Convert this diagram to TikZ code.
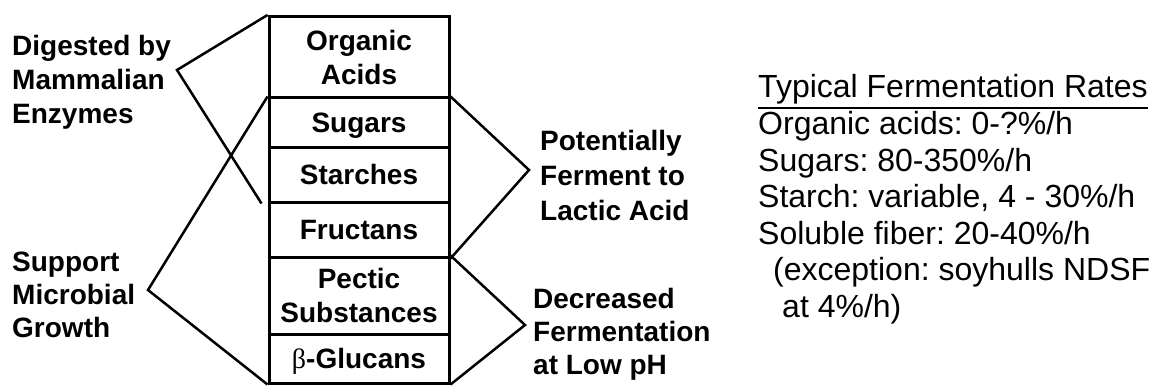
\documentclass[tikz,border=0pt]{standalone}
\usepackage{fontspec}
\setmainfont{Liberation Sans}
\newfontfamily\betafont{Liberation Serif}
\frenchspacing
\begin{document}
\begin{tikzpicture}[x=1pt,y=-1pt,
  boldtxt/.style={font=\fontsize{28}{34}\selectfont\bfseries, inner sep=0pt},
  cell/.style={draw, line width=3pt, minimum width=180pt, inner sep=0pt, align=center,
    font=\fontsize{28}{34}\selectfont\bfseries},
  cellone/.style={cell, text height=20pt, text depth=0pt},
  bracket/.style={line width=2.5pt},
  rate/.style={font=\fontsize{32}{36.5}\selectfont\frenchspacing, inner sep=0pt, anchor=base west}]
\useasboundingbox (0,0) rectangle (1155,385);
\fill[white] (0,0) rectangle (1155,385);
% column of cells
\node[cell, minimum height=81.5pt] (oa) at (359,57.25) {Organic\\Acids};
\node[cellone, minimum height=49pt] (sug) at (359,122.5) {Sugars};
\node[cellone, minimum height=55pt] (sta) at (359,174.5) {Starches};
\node[cellone, minimum height=55pt] (fru) at (359,229.5) {Fructans};
\node[cell, minimum height=77pt] (pec) at (359,295.5) {Pectic\\Substances};
\node[cellone, minimum height=49pt] (glu) at (359,358.5) {{\betafont\mdseries β}-Glucans};
% labels
\node[boldtxt, align=left, anchor=north west] (dig) at (12,35) {Digested by\\Mammalian\\Enzymes};
\node[boldtxt, align=left, anchor=north west, font=\fontsize{28}{33}\selectfont\bfseries] (sup) at (12,252) {Support\\Microbial\\Growth};
\node[boldtxt, align=left, anchor=north west, font=\fontsize{28}{35}\selectfont\bfseries] (fer) at (540,130) {Potentially\\Ferment to\\Lactic Acid};
\node[boldtxt, align=left, anchor=north west, font=\fontsize{28}{33}\selectfont\bfseries] (dec) at (533,288) {Decreased\\Fermentation\\at Low pH};
% bracket apexes and free end
\coordinate (digA) at (177,70);
\coordinate (digE) at ([xshift=-6pt]sta.south west);
\coordinate (supA) at (148,290);
\coordinate (ferA) at (529,170);
\coordinate (decA) at (525,325);
\draw[bracket] (oa.north west) -- (digA) -- (digE);
\draw[bracket] (sug.north west) -- (supA) -- (glu.south west);
\draw[bracket] (sug.north east) -- (ferA) -- (fru.south east);
\draw[bracket] (pec.north east) -- (decA) -- (glu.south east);
% rates list
\node[rate] (r0) at (758,98) {Typical Fermentation Rates};
\draw[line width=2pt] ([yshift=-10pt]r0.base west) -- ([yshift=-10pt]r0.base east);
\node[rate] (r1) at (758,134.5) {Organic acids: 0-?\%/h};
\node[rate] (r2) at (758,171) {Sugars: 80-350\%/h};
\node[rate] (r3) at (758,207.5) {Starch: variable, 4 - 30\%/h};
\node[rate] (r4) at (758,244) {Soluble fiber: 20-40\%/h};
\node[rate] (r5) at (773,280.5) {(exception: soyhulls NDSF};
\node[rate] (r6) at (782,317) {at 4\%/h)};
\end{tikzpicture}
\end{document}
